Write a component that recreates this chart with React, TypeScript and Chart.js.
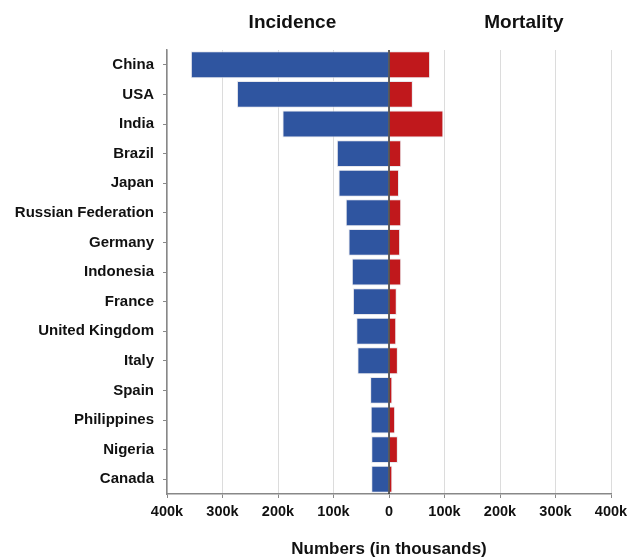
import React, { useEffect, useRef } from "react";
import { Chart, registerables } from "chart.js";

Chart.register(...registerables);

const countries = [
  "China", "USA", "India", "Brazil", "Japan", "Russian Federation", "Germany",
  "Indonesia", "France", "United Kingdom", "Italy", "Spain", "Philippines", "Nigeria", "Canada",
];
// values in thousands
const incidence = [357, 274, 192, 94, 91, 78, 73, 67, 65, 59, 57, 34, 33, 32, 32];
const mortality = [74, 43, 98, 22, 18, 22, 20, 22, 14, 13, 16, 6, 11, 16, 6];
const xTicks = [-400, -300, -200, -100, 0, 100, 200, 300, 400];

const FONT = "'Liberation Sans', Arial, sans-serif";

export default function App() {
  const ref = useRef<HTMLCanvasElement>(null);
  useEffect(() => {
    document.body.style.margin = "0";
    const overlay = {
      id: "overlay",
      afterDatasetsDraw(chart: any) {
        const { ctx, chartArea, scales } = chart;
        const x0 = scales.x.getPixelForValue(0);
        ctx.save();
        ctx.strokeStyle = "#333";
        ctx.lineWidth = 1.5;
        ctx.beginPath();
        ctx.moveTo(x0, chartArea.top);
        ctx.lineTo(x0, chartArea.bottom);
        ctx.stroke();
        ctx.fillStyle = "#111";
        ctx.font = `bold 19px ${FONT}`;
        ctx.textAlign = "center";
        ctx.textBaseline = "middle";
        ctx.fillText("Incidence", scales.x.getPixelForValue(-174), 23);
        ctx.fillText("Mortality", scales.x.getPixelForValue(243), 23);
        ctx.restore();
      },
    };
    const chart = new Chart(ref.current!, {
      type: "bar",
      data: {
        labels: countries,
        datasets: [
          {
            label: "Incidence",
            data: incidence.map((v) => -v),
            backgroundColor: "#2F55A0",
            borderColor: "rgba(230,230,235,0.9)",
            borderWidth: 1,
            barPercentage: 0.91,
            categoryPercentage: 1,
          },
          {
            label: "Mortality",
            data: mortality,
            backgroundColor: "#C0181C",
            borderColor: "rgba(230,230,235,0.9)",
            borderWidth: 1,
            barPercentage: 0.91,
            categoryPercentage: 1,
          },
        ],
      },
      options: {
        indexAxis: "y",
        animation: false,
        responsive: false,
        maintainAspectRatio: false,
        layout: { padding: { top: 50, right: 0, bottom: 0, left: 0 } },
        plugins: { legend: { display: false }, tooltip: { enabled: false } },
        scales: {
          x: {
            stacked: true,
            min: -400,
            max: 400,
            afterBuildTicks: (scale: any) => {
              scale.ticks = xTicks.map((v) => ({ value: v }));
            },
            afterFit: (scale: any) => {
              scale.height = 64;
              scale.paddingRight = 19;
              scale.paddingLeft = 0;
            },
            ticks: {
              color: "#111",
              font: { family: FONT, size: 14.5, weight: "bold" },
              padding: 5,
              maxRotation: 0,
              callback: (v: any) => (Number(v) === 0 ? "0" : Math.abs(Number(v)) + "k"),
            },
            grid: {
              color: "#dcdcdc",
              tickColor: "#888",
              tickLength: 4,
              lineWidth: 1,
            },
            border: { color: "#888", width: 1.5 },
            title: {
              display: true,
              text: "Numbers (in thousands)",
              color: "#111",
              font: { family: FONT, size: 17, weight: "bold", lineHeight: 1.0 },
              padding: { top: 10, bottom: 0 },
            },
          },
          y: {
            stacked: true,
            afterFit: (scale: any) => {
              scale.width = 167;
            },
            ticks: {
              color: "#111",
              font: { family: FONT, size: 15, weight: "bold" },
              padding: 9,
              autoSkip: false,
            },
            grid: {
              offset: false,
              drawOnChartArea: false,
              tickColor: "#888",
              tickLength: 4,
            },
            border: { color: "#888", width: 1.5 },
          },
        },
      },
      plugins: [overlay],
    } as any);
    return () => chart.destroy();
  }, []);
  return <canvas ref={ref} width={630} height={558} style={{ display: "block" }} />;
}
